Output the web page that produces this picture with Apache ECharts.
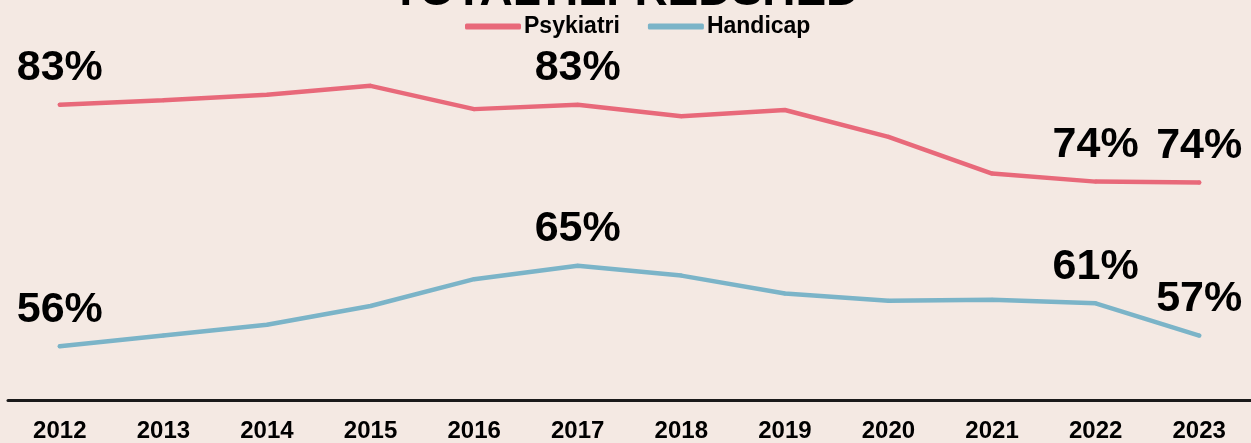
<!DOCTYPE html>
<html>
<head>
<meta charset="utf-8">
<script src="https://cdn.jsdelivr.net/npm/echarts@6/dist/echarts.min.js"></script>
<style>
  html, body { margin: 0; padding: 0; background: #F4E9E3; }
  #chart { width: 1251px; height: 443px; }
</style>
</head>
<body>
<div id="chart"></div>
<script>
// data
const years = ['2012', '2013', '2014', '2015', '2016', '2017', '2018', '2019', '2020', '2021', '2022', '2023'];
const psykiatri = [83.0, 83.5, 84.1, 85.1, 82.5, 83.0, 81.7, 82.4, 79.4, 75.3, 74.4, 74.3];
const handicap = [56.0, 57.2, 58.4, 60.5, 63.5, 65.0, 63.9, 61.9, 61.1, 61.2, 60.8, 57.2];
// which points carry a value label
const labelled = ['2012', '2017', '2022', '2023'];

const FONT = '"Liberation Sans Narrow", "Arial Narrow", "Liberation Sans", Arial, sans-serif';

function withLabels(values) {
  return values.map((v, i) => ({
    value: v,
    label: { show: labelled.indexOf(years[i]) !== -1 }
  }));
}

const chart = echarts.init(document.getElementById('chart'), null, { renderer: 'canvas' });

const lineLabel = {
  position: 'top',
  distance: 13,
  fontFamily: FONT,
  fontWeight: 'bold',
  fontSize: 43,
  color: '#000',
  formatter: p => Math.round(p.value) + '%'
};

let option = {
  backgroundColor: '#F4E9E3',
  animation: false,
  title: {
    text: 'TOTALTILFREDSHED',
    left: 'center',
    top: -36,
    textStyle: { fontFamily: FONT, fontWeight: 'bold', fontSize: 46, color: '#000' }
  },
  legend: {
    left: 460,
    top: 10,
    itemWidth: 56,
    itemHeight: 6,
    itemGap: 28,
    icon: 'roundRect',
    textStyle: { fontFamily: FONT, fontWeight: 'bold', fontSize: 23, color: '#000', padding: [0, 0, 0, -2] },
    data: ['Psykiatri', 'Handicap']
  },
  grid: { left: 8, right: -3, top: 42, bottom: 40 },
  xAxis: {
    type: 'category',
    data: years,
    boundaryGap: true,
    axisLine: { lineStyle: { color: '#1a1a1a', width: 3 } },
    axisTick: { show: false },
    axisLabel: {
      margin: 19,
      fontFamily: FONT,
      fontWeight: 'bold',
      fontSize: 24,
      color: '#000'
    }
  },
  yAxis: {
    type: 'value',
    min: 50,
    max: 90,
    show: false,
    splitLine: { show: false }
  },
  series: [
    {
      name: 'Psykiatri',
      type: 'line',
      data: withLabels(psykiatri),
      color: '#E8697A',
      lineStyle: { width: 4.5, cap: 'round' },
      symbol: 'circle',
      symbolSize: 4,
      label: lineLabel
    },
    {
      name: 'Handicap',
      type: 'line',
      data: withLabels(handicap),
      color: '#7BB4C8',
      lineStyle: { width: 4.5, cap: 'round' },
      symbol: 'circle',
      symbolSize: 4,
      label: lineLabel
    }
  ]
};

chart.setOption(option);
window.addEventListener('resize', chart.resize);
</script>
</body>
</html>
